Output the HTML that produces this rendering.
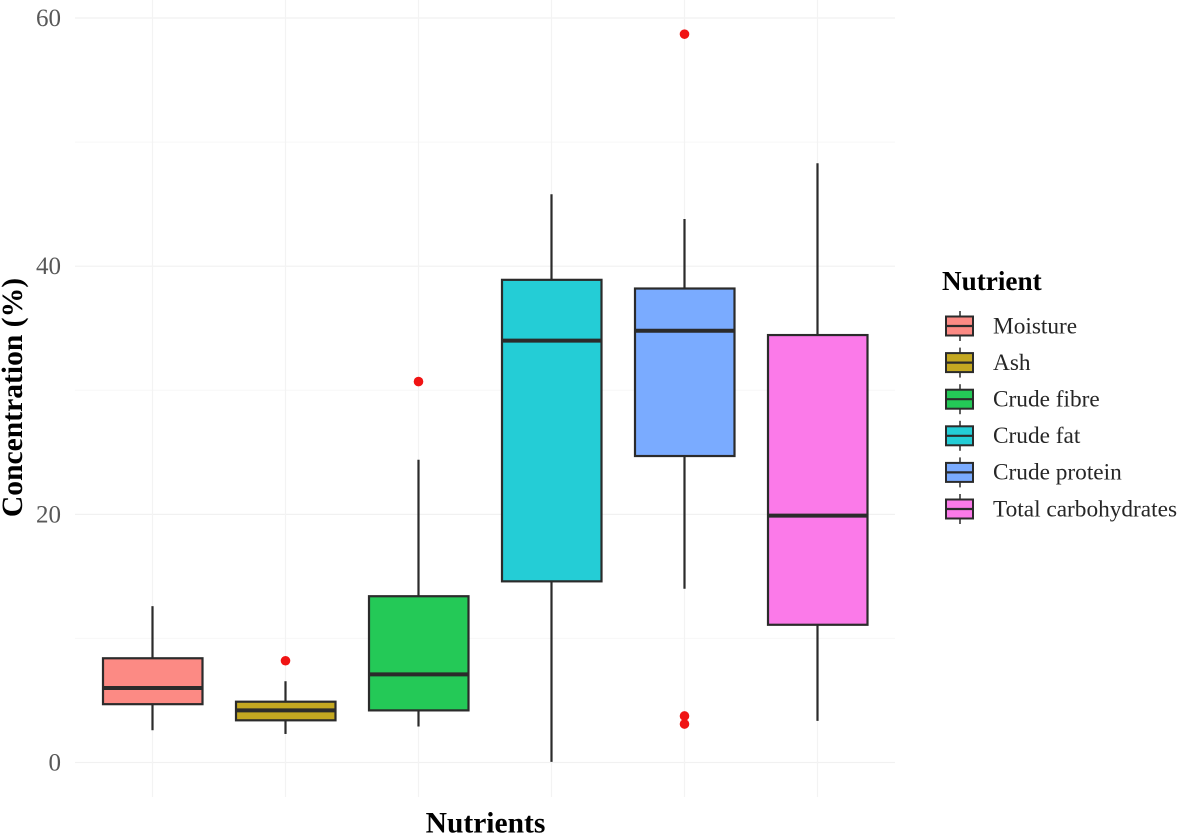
<!DOCTYPE html>
<html>
<head>
<meta charset="utf-8">
<style>
html,body{margin:0;padding:0;background:#fff;width:1181px;height:840px;overflow:hidden}
svg{display:block;font-family:"Liberation Serif",serif}
</style>
</head>
<body>
<svg id="chart" xmlns="http://www.w3.org/2000/svg" width="1181" height="840" viewBox="0 0 1181 840"></svg>
<script>
const categories = ["Moisture","Ash","Crude fibre","Crude fat","Crude protein","Total carbohydrates"];
const whiskerHigh = [12.6,6.55,24.4,45.8,43.8,48.3];
const q3Values = [8.4,4.9,13.4,38.9,38.2,34.45];
const medians = [6.0,4.2,7.1,34.0,34.8,19.9];
const q1Values = [4.7,3.4,4.2,14.6,24.7,11.1];
const whiskerLow = [2.6,2.3,2.9,0.05,14.0,3.35];
const outlierCategories = [1,2,4,4,4];
const outlierValues = [8.2,30.7,58.7,3.75,3.1];
const majorTicks = [0,20,40,60];
const minorTicks = [10,30,50];
const colors = ["#fc8a84","#c4a821","#24c957","#24cdd6","#7aabff","#fb7ae9"];

const svg = document.getElementById('chart');
const NS = 'http://www.w3.org/2000/svg';
function yScale(v){ return 762.5 - v * 12.408; }
function xScale(i){ return 152.5 + i * 133; }
function make(tag, attrs, parent, text){
  const e = document.createElementNS(NS, tag);
  for (const k in attrs) e.setAttribute(k, attrs[k]);
  if (text !== undefined) e.textContent = text;
  (parent || svg).appendChild(e);
  return e;
}
const ink = '#2b2b2b';

minorTicks.forEach(function(t){
  const l = make('line',{x1:75,x2:895,y1:yScale(t),y2:yScale(t),stroke:'#f7f7f7','stroke-width':1});
  
  
});
majorTicks.forEach(function(t){
  const l = make('line',{x1:75,x2:895,y1:yScale(t),y2:yScale(t),stroke:'#f1f1f1','stroke-width':1.2});
  
  
  const lab = make('text',{x:61,y:yScale(t)+8,'text-anchor':'end','font-size':25,fill:'#585858'},svg,String(t));
  
  
});
categories.forEach(function(c,i){
  const l = make('line',{x1:xScale(i),x2:xScale(i),y1:0,y2:797,stroke:'#f3f3f3','stroke-width':1.2});
  
  
});

categories.forEach(function(c,i){
  const g = make('g',{});
  
  
  const x = xScale(i);
  make('line',{x1:x,x2:x,y1:yScale(whiskerHigh[i]),y2:yScale(q3Values[i]),stroke:ink,'stroke-width':2.2},g);
  make('line',{x1:x,x2:x,y1:yScale(q1Values[i]),y2:yScale(whiskerLow[i]),stroke:ink,'stroke-width':2.2},g);
  make('rect',{x:x-49.5,y:yScale(q3Values[i]),width:99.5,height:yScale(q1Values[i])-yScale(q3Values[i]),fill:colors[i],stroke:ink,'stroke-width':2.2},g);
  make('line',{x1:x-49.5,x2:x+50,y1:yScale(medians[i]),y2:yScale(medians[i]),stroke:ink,'stroke-width':4},g);
});

outlierValues.forEach(function(v,i){
  const p = make('circle',{cx:xScale(outlierCategories[i]),cy:yScale(v),r:4.8,fill:'#f01414'});
  
  
});

const yTitle = make('text',{transform:'translate(22,397.5) rotate(-90)','text-anchor':'middle','font-size':29.6,'font-weight':'bold',fill:'#000'},svg,'Concentration (%)');


const xTitle = make('text',{x:485.5,y:832.5,'text-anchor':'middle','font-size':29.5,'font-weight':'bold',fill:'#000'},svg,'Nutrients');


const legTitle = make('text',{x:942,y:290,'font-size':27.2,'font-weight':'bold',fill:'#000'},svg,'Nutrient');



categories.forEach(function(c,i){
  const cy = 326 + i * 36.6;
  const g = make('g',{});
  
  
  make('line',{x1:960,x2:960,y1:cy-15,y2:cy+15,stroke:ink,'stroke-width':1.5},g);
  make('rect',{x:946,y:cy-9.5,width:27,height:19,fill:colors[i],stroke:ink,'stroke-width':2},g);
  make('line',{x1:946,x2:973,y1:cy,y2:cy,stroke:ink,'stroke-width':2.2},g);
  make('text',{x:993,y:cy+7.3,'font-size':23.3,fill:'#262626'},g,c);
});
</script>
</body>
</html>
